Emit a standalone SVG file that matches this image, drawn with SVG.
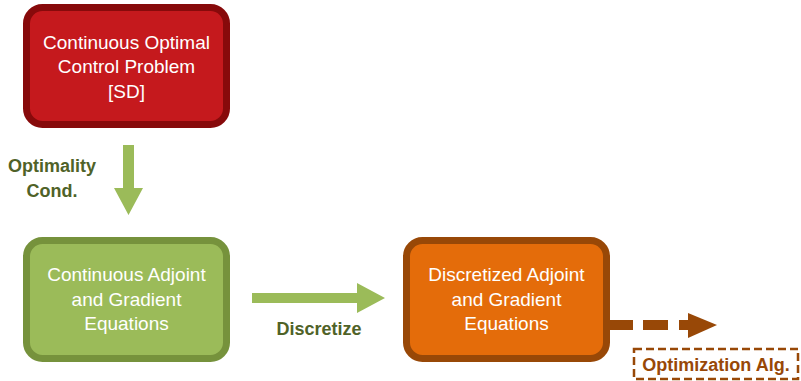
<svg xmlns="http://www.w3.org/2000/svg" width="801" height="381" viewBox="0 0 801 381">
<style>
.box{stroke-width:7}
.nt{font-family:"Liberation Sans",Arial,sans-serif;font-size:19px;fill:#ffffff;text-anchor:middle}
.lbl{font-family:"Liberation Sans",Arial,sans-serif;font-size:18px;font-weight:bold;text-anchor:middle}
</style>
<rect width="801" height="381" fill="#ffffff"/>
<g id="connectors">
<polygon id="c1" points="123,145 134,145 134,188 143,188 128.5,215 114,188 123,188" fill="#9BBB59"/>
<polygon id="c2" points="252,293 357,293 357,283 385,298 357,313 357,303 252,303" fill="#9BBB59"/>
<g id="c3" fill="#984807">
<rect x="610" y="320" width="23" height="10"/>
<rect x="643" y="320" width="25" height="10"/>
<rect x="679" y="320" width="10" height="10"/>
<polygon points="688,313 717,325 688,338"/>
</g>
</g>
<g id="n1">
<rect class="box" x="26.5" y="7.5" width="200" height="117" rx="16" fill="#C5191D" stroke="#870A0B"/>
<text class="nt" x="126.5" y="49">Continuous Optimal</text>
<text class="nt" x="126.5" y="73">Control Problem</text>
<text class="nt" x="126.5" y="98">[SD]</text>
</g>
<g id="n2">
<rect class="box" x="26.5" y="240.5" width="200" height="118" rx="16" fill="#9BBB59" stroke="#76923C"/>
<text class="nt" x="126.5" y="281">Continuous Adjoint</text>
<text class="nt" x="126.5" y="306">and Gradient</text>
<text class="nt" x="126.5" y="330">Equations</text>
</g>
<g id="n3">
<rect class="box" x="406.5" y="240.5" width="200" height="118" rx="16" fill="#E46C0A" stroke="#984807"/>
<text class="nt" x="506.5" y="281">Discretized Adjoint</text>
<text class="nt" x="506.5" y="306">and Gradient</text>
<text class="nt" x="506.5" y="330">Equations</text>
</g>
<g id="l1" fill="#4F6228">
<text class="lbl" x="52" y="172">Optimality</text>
<text class="lbl" x="52" y="197">Cond.</text>
</g>
<g id="l2" fill="#4F6228">
<text class="lbl" x="319" y="335">Discretize</text>
</g>
<g id="n4">
<rect x="634" y="349" width="164" height="30" fill="none" stroke="#984807" stroke-width="2.5" stroke-dasharray="8,4"/>
<text class="lbl" x="716" y="371" fill="#984807">Optimization Alg.</text>
</g>
</svg>
